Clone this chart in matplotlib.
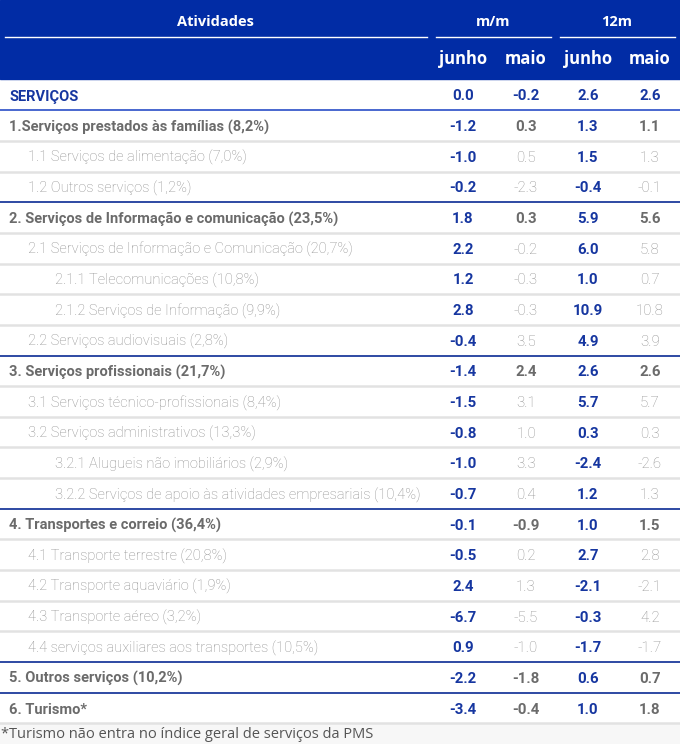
import matplotlib
matplotlib.use("Agg")
import matplotlib.pyplot as plt
from matplotlib.patches import Rectangle

# table content
labels = [
    "SERVIÇOS",
    "1.Serviços prestados às famílias (8,2%)",
    "1.1 Serviços de alimentação (7,0%)",
    "1.2 Outros serviços (1,2%)",
    "2. Serviços de Informação e comunicação (23,5%)",
    "2.1 Serviços de Informação e Comunicação (20,7%)",
    "2.1.1 Telecomunicações (10,8%)",
    "2.1.2 Serviços de Informação (9,9%)",
    "2.2 Serviços audiovisuais (2,8%)",
    "3. Serviços profissionais (21,7%)",
    "3.1 Serviços técnico-profissionais (8,4%)",
    "3.2 Serviços administrativos (13,3%)",
    "3.2.1 Alugueis não imobiliários (2,9%)",
    "3.2.2 Serviços de apoio às atividades empresariais (10,4%)",
    "4. Transportes e correio (36,4%)",
    "4.1 Transporte terrestre (20,8%)",
    "4.2 Transporte aquaviário (1,9%)",
    "4.3 Transporte aéreo (3,2%)",
    "4.4 serviços auxiliares aos transportes (10,5%)",
    "5. Outros serviços (10,2%)",
    "6. Turismo*",
]
levels = [0, 1, 2, 2, 1, 2, 3, 3, 2, 1, 2, 2, 3, 3, 1, 2, 2, 2, 2, 1, 1]
mm_junho = [0.0, -1.2, -1.0, -0.2, 1.8, 2.2, 1.2, 2.8, -0.4, -1.4, -1.5, -0.8, -1.0, -0.7,
            -0.1, -0.5, 2.4, -6.7, 0.9, -2.2, -3.4]
mm_maio = [-0.2, 0.3, 0.5, -2.3, 0.3, -0.2, -0.3, -0.3, 3.5, 2.4, 3.1, 1.0, 3.3, 0.4,
           -0.9, 0.2, 1.3, -5.5, -1.0, -1.8, -0.4]
a12_junho = [2.6, 1.3, 1.5, -0.4, 5.9, 6.0, 1.0, 10.9, 4.9, 2.6, 5.7, 0.3, -2.4, 1.2,
             1.0, 2.7, -2.1, -0.3, -1.7, 0.6, 1.0]
a12_maio = [2.6, 1.1, 1.3, -0.1, 5.6, 5.8, 0.7, 10.8, 3.9, 2.6, 5.7, 0.3, -2.6, 1.3,
            1.5, 2.8, -2.1, 4.2, -1.7, 0.7, 1.8]
group_headers = ["Atividades", "m/m", "12m"]
sub_headers = ["junho", "maio", "junho", "maio"]
footnote = "*Turismo não entra no índice geral de serviços da PMS"

NAVY = "#012ca5"
BLUE_TXT = "#1636a0"
GRAY_BOLD = "#6b6b6b"
GRAY_LIGHT = "#8f8f8f"
LINE_GRAY = "#e2e2e2"
LINE_BLUE = "#1c3c9c"

W, H = 680, 744
fig = plt.figure(figsize=(W / 100, H / 100), dpi=100)
ax = fig.add_axes([0, 0, 1, 1])
ax.set_xlim(0, W)
ax.set_ylim(H, 0)
ax.axis("off")

FONT = "Roboto"
HEAD_FONT = "Open Sans"

# header band
ax.add_patch(Rectangle((0, 0), W, 78.5, color=NAVY, zorder=0))
for txt, xc in zip(group_headers, [215, 493, 617]):
    ax.text(xc, 21.5, txt, color="white", fontsize=10.5, fontweight="bold",
            family=HEAD_FONT, ha="center", va="center")
for x0, x1 in [(5, 427), (436, 551), (560, 675)]:
    ax.plot([x0, x1], [36.5, 36.5], color="white", lw=1.0)
col_x = [463, 526, 588, 650]
for txt, xc in zip(sub_headers, col_x):
    ax.text(xc, 58.5, txt, color="white", fontsize=12, fontweight="bold",
            family=HEAD_FONT, ha="center", va="center")

row_h = 30.65
y0 = 95
indent = {0: 9, 1: 9, 2: 28, 3: 55}
dy = 1.5  # matplotlib centres the full bbox, nudge text down a bit

for i, lab in enumerate(labels):
    yc = y0 + i * row_h
    lvl = levels[i]
    if lvl == 0:
        lc, lw, vc_m = BLUE_TXT, "bold", BLUE_TXT
    elif lvl == 1:
        lc, lw, vc_m = GRAY_BOLD, "bold", GRAY_BOLD
    else:
        lc, lw, vc_m = GRAY_LIGHT, "light", GRAY_LIGHT
    ax.text(indent[lvl], yc + dy, lab, color=lc, fontsize=10.5, fontweight=lw,
            family=FONT, ha="left", va="center")
    vals = [mm_junho[i], mm_maio[i], a12_junho[i], a12_maio[i]]
    for j, v in enumerate(vals):
        if j % 2 == 0:
            c, w = BLUE_TXT, "bold"
        else:
            c, w = vc_m, lw
        ax.text(col_x[j], yc + dy, f"{v:.1f}", color=c, fontsize=10.8, fontweight=w,
                family=FONT, ha="center", va="center")
    # separator below row
    yb = yc + row_h / 2
    nxt = levels[i + 1] if i + 1 < len(labels) else None
    if i == 0:
        ax.plot([0, W], [yb, yb], color="#3a5ccc", lw=1.3)
    elif nxt == 1:
        ax.plot([0, W], [yb, yb], color=LINE_BLUE, lw=1.3)
    else:
        ax.plot([0, W], [yb, yb], color=LINE_GRAY, lw=1.8)

# footnote
yb_last = y0 + (len(labels) - 1) * row_h + row_h / 2
ax.add_patch(Rectangle((0, yb_last + 1), W, H - yb_last, color="#f7f7f7", zorder=0))
ax.text(1, 734.5, footnote, color="#555555", fontsize=10.5, family=HEAD_FONT,
        ha="left", va="center")

fig.savefig("out.png", dpi=100)
